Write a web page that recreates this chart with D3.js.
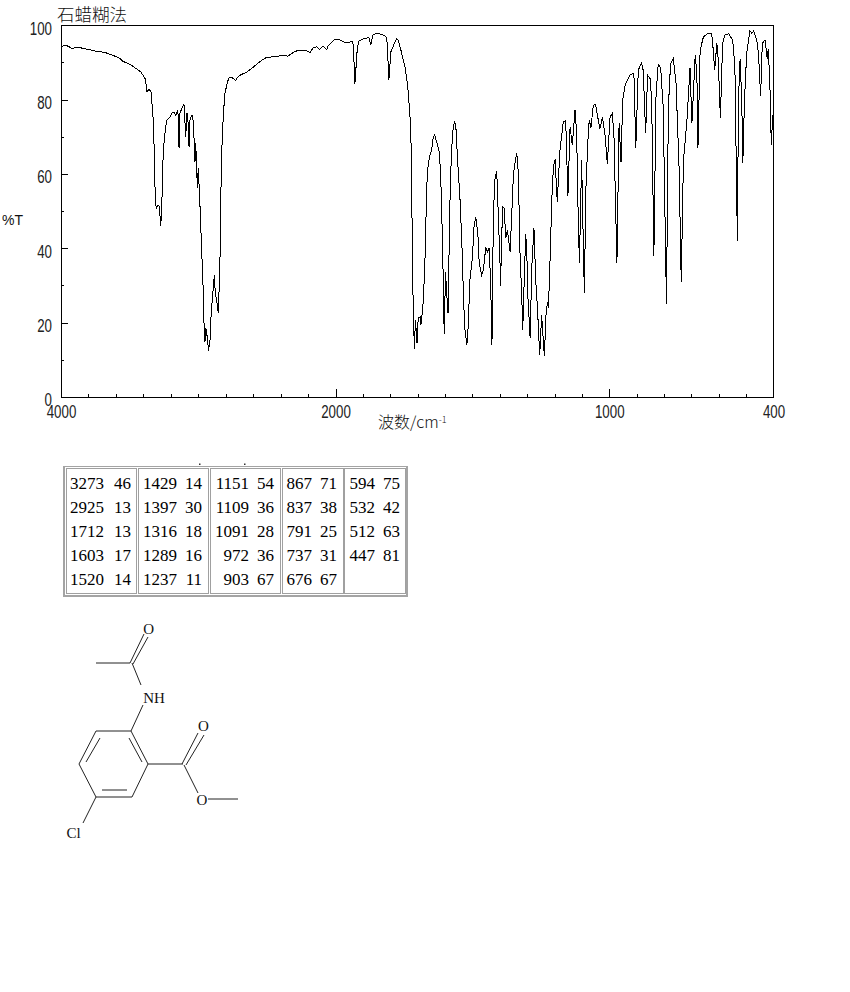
<!DOCTYPE html>
<html><head><meta charset="utf-8">
<script src="https://cdn.jsdelivr.net/npm/d3@7"></script>
<style>html,body{margin:0;padding:0;background:#fff}svg{display:block}</style>
</head><body><div id="c"></div>
<script>
const wavenumbers=[4000,3956,3920,3876,3803,3738,3679,3621,3570,3548,3497,3454,3417,3388,3381,3373,3359,3344,3330,3322,3315,3310,3303,3295,3284,3273,3266,3259,3255,3242,3230,3206,3189,3177,3164,3153,3145,3140,3133,3120,3104,3091,3084,3077,3067,3060,3048,3040,3029,3024,3019,3011,3007,3000,2995,2987,2975,2963,2958,2951,2944,2938,2925,2914,2907,2898,2883,2876,2866,2854,2849,2842,2836,2829,2817,2805,2788,2774,2756,2727,2708,2683,2647,2610,2574,2538,2501,2453,2380,2346,2307,2271,2259,2222,2186,2162,2137,2118,2093,2064,2052,2004,
1984,1965,1939,1935,1929,1920,1914,1898,1878,1871,1864,1852,1831,1816,1811,1805,1798,1793,1783,1776,1771,1761,1746,1736,1728,1724,1721,1717,1712,1708,1702,1698,1691,1688,1681,1677,1673,1669,1667,1661,1655,1649,1643,1638,1630,1621,1616,1612,1608,1606,1603,1598,1594,1589,1584,1581,1576,1570,1565,1560,1554,1545,1537,1533,1528,1520,1515,1509,1500,1494,1488,1480,1475,1466,1460,1451,1445,1439,1433,1429,1426,1424,1417,1411,1405,1399,1397,1393,1389,1384,1378,1372,1362,1356,1350,1338,1332,1326,1320,1316,1311,1305,1301,1298,1289,1283,1275,1269,1265,1263,1258,1254,1247,1237,1231,1226,1222,1216,1210,1204,1198,1190,1180,1168,1159,1151,1143,1135,1125,1119,1115,1109,1101,1091,1085,1076,1073,1067,1058,1050,1040,1034,1025,1016,1007,997,989,983,972,964,957,951,942,924,910,903,894,882,876,867,860,851,845,837,829,821,812,803,791,784,776,766,756,745,737,729,717,705,698,686,680,676,668,656,638,626,620,615,607,602,594,586,577,563,549,541,532,528,522,516,512,506,498,486,479,473,461,455,447,441,431,423,419,413,408,403];
const transmittance=[94.4,94.5,93.8,94.1,93.5,93.0,92.7,91.9,91.1,90.3,89.5,88.4,87.4,85.7,84.4,82.0,82.9,82,75.8,67.7,56.4,51.6,50.8,51.5,51.3,46,51.1,60.2,66.4,71,74.5,75.3,76.6,76.6,75.8,76.9,75.8,66.9,76.3,77.7,78.8,69.9,76.3,76.3,67.2,74.5,75.8,75.8,68.3,63.2,68.3,61.8,56.2,61.6,57.8,51.1,39.5,28,19.9,14.8,18.5,17.2,12.5,15.3,21.5,26.1,32.8,28,26.1,22.6,28,36,53,65.9,76.3,81.7,84.7,86,86,85.2,86.3,86.8,87.4,88.4,89.5,90.6,91.4,91.5,91.9,91.7,92.7,93.3,93.1,93.3,92.7,93.9,94.2,93.5,94.4,93.5,94.6,96.3,
96.1,95.3,95.6,94.6,84.3,94.2,95.8,96.4,96.7,94.8,97.3,97.8,97.6,97,95.1,85.2,92.8,93.7,95.5,96.4,96,93.3,88.8,83.4,75.8,68.2,51.2,27.9,13,20.7,14.4,21.2,21.6,19.4,23.9,29.6,37.6,49.5,56.4,62.9,65,66.4,69.9,70.6,68.5,65.9,60.2,50.3,36.8,30.6,17,33.6,28,22.6,44.1,55.6,66.4,72.6,74.2,72.3,63.7,53,38.7,28,18.8,14,19.4,31.5,37.4,45.7,48.5,44.1,36,32.8,34.1,40.3,39,40.1,30.6,14,20.7,48.4,59.1,60.8,48.4,36,30,43,51.1,50.8,42.7,44.9,39,49.5,60.2,65.7,60.2,38.7,28,18,30.6,43.8,38.7,28,16,34.9,45.4,32.3,26.1,25.5,17.2,11.3,22,11,22,25.5,24,37.4,53,61.8,63.9,52.5,66.4,74,74.3,54,72.7,67.7,77.3,71,53.8,36,63.7,28,56.5,72.2,74.5,72.5,78.5,78.7,74.5,72.2,75.2,70.9,62.8,75.3,76.3,70.9,36,73.6,63.2,79.8,83.9,86.6,87.2,67,87.9,89.9,87.9,71,86.6,85.7,79.8,38,81.6,89.5,88.4,78,25,78,89.7,91,84.3,61.9,31,63.7,73.6,88.4,73.6,91.9,87.4,67,93.3,96.9,97.9,97.8,93.3,87.9,95.1,91,75,95.1,97.5,97.7,96,88.8,42,79.8,91,79.8,63,79.8,92.4,98.5,97.8,98.5,96,92.4,81,95.1,96.1,91,93.7,83.4,67.7,75.8];
const yMajorTicks=[0,20,40,60,80,100];
const yMinorTicks=[10,30,50,70,90];
const xLabelTicks=[4000,2000,1000,400];
const xMinorTicks=[3800,3600,3400,3200,3000,2800,2600,2400,2200,1900,1800,1700,1600,1500,1400,1300,1200,1100,900,800,700,600,500];
const titleText="石蜡糊法", xTitle="波数/cm", yTitle="%T";
const tableColumns=[
 [[3273,46],[2925,13],[1712,13],[1603,17],[1520,14]],
 [[1429,14],[1397,30],[1316,18],[1289,16],[1237,11]],
 [[1151,54],[1109,36],[1091,28],[972,36],[903,67]],
 [[867,71],[837,38],[791,25],[737,31],[676,67]],
 [[594,75],[532,42],[512,63],[447,81]]];
const bonds=[[96,663,130,663],[130,663,144,634],[133,664,148,637],[132,663,141,685],[143,705,131,731],
 [131,731,96,731],[96,731,79,764],[79,764,96,797],[96,797,132,797],[132,797,148,764],[148,764,131,731],
 [129,738,142,762],[100,738,86,762],[102,790,127,790],[148,764,183,764],[182,764,198,733],[186,765,204,735],
 [184,765,198,793],[208,799,238,799],[96,797,83,823]];
const atoms=[["O",148.7,634],["NH",154,702.5],["O",203.5,730.5],["O",202,805],["Cl",73.5,837.5]];

const W=850,H=992;
const svg=d3.select("#c").append("svg").attr("width",W).attr("height",H);
const x=d3.scaleLinear().domain([4000,2000,400]).range([61,335.5,773.5]);
const y=d3.scaleLinear().domain([0,100]).range([397,25.3]);
const axisFont="'Liberation Sans',sans-serif";
const crisp=s=>s.attr("shape-rendering","crispEdges");

// frame
svg.append("rect").attr("x",x(4000)).attr("y",y(100)).attr("width",x(400)-x(4000)).attr("height",y(0)-y(100))
 .attr("fill","none").attr("stroke","#000").call(crisp);

// axes
function styleAxis(g){g.select(".domain").remove();g.selectAll("line").attr("stroke","#000").attr("shape-rendering","crispEdges");
 g.selectAll("text").attr("font-family",axisFont).attr("fill","#222").attr("font-size",18)
  .attr("lengthAdjust","spacingAndGlyphs").attr("textLength",function(){return this.textContent.length*7.4;});}
svg.append("g").attr("transform","translate(61,0)").call(d3.axisRight(y).tickValues(yMinorTicks).tickSize(3).tickFormat("")).call(styleAxis);
svg.append("g").attr("transform","translate(61,0)").call(d3.axisRight(y).tickValues(yMajorTicks.slice(1,5)).tickSize(7).tickFormat("")).call(styleAxis);
svg.append("g").attr("transform","translate(61,3)").call(d3.axisLeft(y).tickValues(yMajorTicks).tickSize(0).tickPadding(9).tickFormat(d3.format("d"))).call(styleAxis);
svg.append("g").attr("transform","translate(0,397)").call(d3.axisTop(x).tickValues(xMinorTicks).tickSize(3).tickFormat("")).call(styleAxis);
svg.append("g").attr("transform","translate(0,397)").call(d3.axisTop(x).tickValues([2000,1000]).tickSize(8).tickFormat("")).call(styleAxis);
svg.append("g").attr("transform","translate(0,397)").call(d3.axisBottom(x).tickValues(xLabelTicks).tickSize(0).tickPadding(8).tickFormat(d3.format("d"))).call(styleAxis);

// spectrum
const pts=d3.zip(wavenumbers,transmittance);
svg.append("path").datum(pts).attr("fill","none").attr("stroke","#000").attr("stroke-width",1)
 .attr("shape-rendering","crispEdges").attr("d",d3.line().x(d=>x(d[0])).y(d=>y(d[1])));

// titles
const cjk="'Noto Sans CJK SC',sans-serif";
svg.append("text").attr("x",57).attr("y",20.5).attr("font-family",cjk).attr("font-size",17.5).attr("font-weight",300).attr("fill","#111").text(titleText);
const xt=svg.append("text").attr("x",378).attr("y",428).attr("font-family",cjk).attr("font-size",16).attr("font-weight",300).attr("fill","#111");
xt.append("tspan").text(xTitle);
xt.append("tspan").attr("dy",-5).attr("font-size",9).text("-1");
svg.append("text").attr("x",2).attr("y",225).attr("font-family","'Liberation Sans',sans-serif").attr("font-size",14).attr("fill","#111").text(yTitle);

// peak table
const tb=svg.append("g");
const colX=[[66,136],[138,208],[210,280],[282,343],[344.5,405]];
const wnEnd=[104,177,249,312,375], pctEnd=[131,202,274,337,400];
tb.append("rect").attr("x",64).attr("y",466.5).attr("width",343).attr("height",129.5).attr("fill","none").attr("stroke","#a4a4a4").attr("stroke-width",1.6).call(crisp);
colX.forEach((c,i)=>{
 tb.append("rect").attr("x",c[0]).attr("y",468.5).attr("width",c[1]-c[0]).attr("height",125).attr("fill","none").attr("stroke","#a0a0a0").call(crisp);
 const rows=tb.selectAll(null).data(tableColumns[i]).enter().append("g");
 rows.append("text").attr("x",wnEnd[i]).attr("y",(d,j)=>488.5+24*j).attr("text-anchor","end").text(d=>d[0]);
 rows.append("text").attr("x",pctEnd[i]).attr("y",(d,j)=>488.5+24*j).attr("text-anchor","end").text(d=>d[1]);
});
tb.selectAll("text").attr("font-family","'Liberation Serif',serif").attr("font-size",17).attr("fill","#000");
[199,244].forEach(v=>tb.append("rect").attr("x",v).attr("y",463.5).attr("width",1.5).attr("height",1.5).attr("fill","#333"));

// structure
const st=svg.append("g");
st.selectAll("line").data(bonds).enter().append("line")
 .attr("x1",d=>d[0]).attr("y1",d=>d[1]).attr("x2",d=>d[2]).attr("y2",d=>d[3]).attr("stroke","#222").attr("stroke-width",1);
st.selectAll("text").data(atoms).enter().append("text").attr("x",d=>d[1]).attr("y",d=>d[2]).attr("text-anchor","middle")
 .attr("font-family","'Liberation Serif',serif").attr("font-size",15).attr("fill","#111").text(d=>d[0]);
</script></body></html>
